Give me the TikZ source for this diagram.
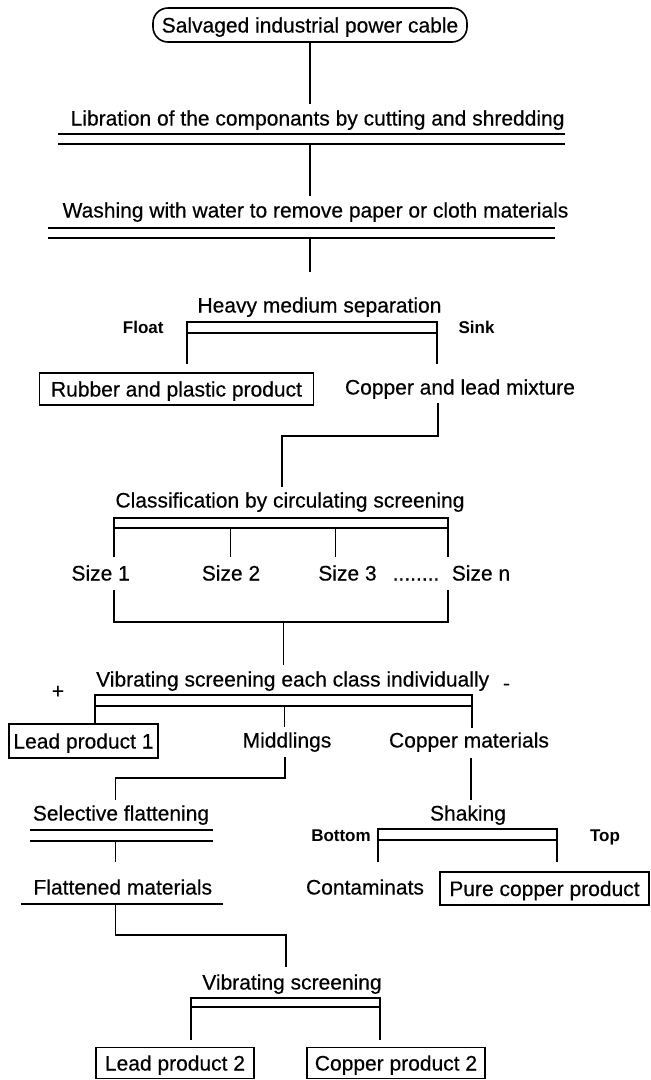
\documentclass[tikz,border=0pt]{standalone}
\usepackage{fontspec}
\setmainfont{Liberation Sans}
\newfontfamily\heavyfont[FakeBold=0.4]{Liberation Sans}
\begin{document}
\begin{tikzpicture}[x=1pt,y=-1pt,
  every node/.style={font=\heavyfont\fontsize{21}{24}\selectfont},
  txt/.style={inner xsep=0pt, inner ysep=6pt, text height=15pt, text depth=0pt},
  small/.style={font=\fontsize{17}{20}\selectfont\bfseries, inner sep=0pt, text height=12pt, text depth=0pt},
  box/.style={draw, line width=1.6pt, inner xsep=0pt, inner ysep=0pt, text height=15pt, text depth=0pt, minimum height=32pt},
  ln/.style={line width=1.6pt},
]
\useasboundingbox (0,0) rectangle (651,1080);

% --- top
\node[box, rounded corners=15pt, minimum width=314pt, minimum height=34pt] (src) at (310,25) {Salvaged industrial power cable};
\node[txt] (lib) at (317.6,118) {Libration of the componants by cutting and shredding};
\draw[ln] (58,134) -- (565,134);
\draw[ln] (58,144) -- (565,144);
\coordinate (libb) at (310,144);
\draw[ln] (src.south) -- (src.south |- lib.north);

\node[txt] (wash) at (315.5,210) {Washing with water to remove paper or cloth materials};
\draw[ln] (libb) -- (libb |- wash.north);
\draw[ln] (48,228) -- (555,228);
\draw[ln] (48,238) -- (555,238);
\coordinate (washb) at (310,238);
\coordinate (washe) at (310,272);
\draw[ln] (washb) -- (washe);

% --- heavy medium
\node[txt] (hms) at (319.5,305) {Heavy medium separation};
\node[small] (float) at (143.3,327) {Float};
\node[small] (sink) at (476.5,327) {Sink};
\coordinate (hmsL) at (187,364);
\coordinate (hmsR) at (437,364);
\draw[ln] (hmsL) -- (187,322) -- (437,322) -- (hmsR);
\draw[ln] (187,333) -- (437,333);
\node[box, minimum width=274pt] (rubber) at (176.5,389) {Rubber and plastic product};
\node[txt] (cl) at (460,387) {Copper and lead mixture};

% --- classification
\node[txt] (cls) at (290,500) {Classification by circulating screening};
\coordinate (clo) at (438,403);
\coordinate (clk) at (438,436);
\coordinate (cle) at (282,487);
\draw[ln] (clo) -- (clk) -- (clk -| cle) -- (cle);
\draw[ln] (114,557) -- (114,518) -- (448,518) -- (448,557);
\draw[ln] (114,528) -- (448,528);
\draw[ln] (230.4,528) -- (230.4,557);
\draw[ln] (335.5,528) -- (335.5,557);
\node[txt] (s1) at (100.7,573) {Size 1};
\node[txt] (s2) at (231,573) {Size 2};
\node[txt] (s3) at (347.5,573) {Size 3};
\node[txt] (dots) at (416,573) {........};
\node[txt] (sn) at (481,573) {Size n};
\coordinate (s1o) at (114,590);
\coordinate (sno) at (448,590);
\coordinate (sj) at (283.6,622);
\coordinate (sje) at (283.6,665);
\draw[ln] (s1o) -- (s1o |- sj) -- (sno |- sj) -- (sno);
\draw[ln] (sj) -- (sje);

% --- vibrating screening each class
\node[txt] (vib) at (292.7,679) {Vibrating screening each class individually};
\node[inner sep=0pt] (plus) at (58,692) {+};
\node[inner sep=0pt] (minus) at (506.5,687) {-};
\draw[ln] (94.7,724) -- (94.7,695) -- (472,695) -- (472,728);
\draw[ln] (94.7,706) -- (472,706);
\draw[ln] (284.4,706) -- (284.4,727);
\node[box, minimum width=149pt, minimum height=34pt] (lead1) at (83.5,741) {Lead product 1};
\node[txt] (mid) at (287,740) {Middlings};
\node[txt] (cum) at (469,740) {Copper materials};

\coordinate (mo) at (285,757);
\coordinate (mk) at (285,778);
\coordinate (me) at (115.4,800);
\draw[ln] (mo) -- (mk) -- (mk -| me) -- (me);
\coordinate (co) at (471,758);
\coordinate (ce) at (471,800);
\draw[ln] (co) -- (ce);

% --- selective flattening
\node[txt] (sel) at (121,813) {Selective flattening};
\draw[ln] (30,830) -- (212.6,830);
\draw[ln] (30,841) -- (212.6,841);
\coordinate (selb) at (115.4,841);
\coordinate (sele) at (115.4,862);
\draw[ln] (selb) -- (sele);
\node[txt] (flat) at (122.8,887) {Flattened materials};
\draw[ln] (20.8,904) -- (223.4,904);
\coordinate (fo) at (115.4,904);
\coordinate (fk) at (115.4,935);
\coordinate (fe) at (285.7,967);
\draw[ln] (fo) -- (fk) -- (fk -| fe) -- (fe);

% --- shaking
\node[txt] (shk) at (468,813) {Shaking};
\node[small] (bottom) at (341,835) {Bottom};
\node[small] (top) at (605,835) {Top};
\draw[ln] (377.8,862) -- (377.8,829) -- (557,829) -- (557,862);
\draw[ln] (377.8,840) -- (557,840);
\node[txt] (cont) at (365,887) {Contaminats};
\node[box, minimum width=209pt, minimum height=33pt] (pure) at (544.5,888.5) {Pure copper product};

% --- final vibrating screening
\node[txt] (vs) at (292,982) {Vibrating screening};
\draw[ln] (191,1040) -- (191,998) -- (380,998) -- (380,1040);
\draw[ln] (191,1007) -- (380,1007);
\node[box, minimum width=158pt, minimum height=31pt] (lead2) at (175,1063) {Lead product 2};
\node[box, minimum width=178pt, minimum height=31pt] (cu2) at (396,1063) {Copper product 2};
\end{tikzpicture}
\end{document}
